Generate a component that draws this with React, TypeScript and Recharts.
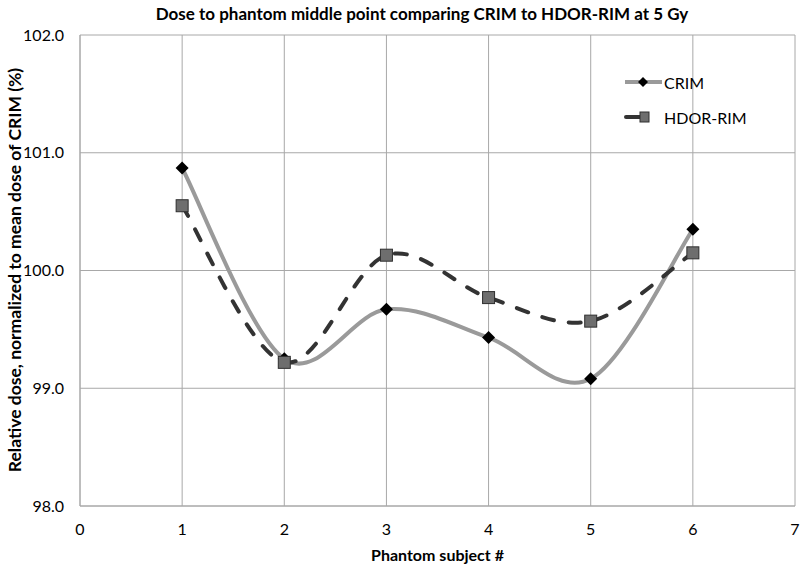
import React from "react";
import { LineChart, Line, XAxis, YAxis, CartesianGrid } from "recharts";

const subjects = [1, 2, 3, 4, 5, 6];
const crim = [100.87, 99.25, 99.67, 99.43, 99.08, 100.35];
const hdorRim = [100.55, 99.22, 100.13, 99.77, 99.57, 100.15];
const xTicks = [0, 1, 2, 3, 4, 5, 6, 7];
const yTicks = [98, 99, 100, 101, 102];

const data = subjects.map((s, i) => ({ subject: s, crim: crim[i], hdor: hdorRim[i] }));

const FONT = "Lato, 'Open Sans', sans-serif";
const GRID = "#a8a8a8";

// Excel-like smoothed line (Catmull-Rom through every point)
const smoothCurve = (context: any) => {
  let pts: number[][] = [];
  return {
    areaStart() {},
    areaEnd() {},
    lineStart() {
      pts = [];
    },
    point(x: number, y: number) {
      pts.push([+x, +y]);
    },
    lineEnd() {
      const n = pts.length;
      if (!n) return;
      context.moveTo(pts[0][0], pts[0][1]);
      for (let i = 0; i < n - 1; i++) {
        const p0 = pts[Math.max(i - 1, 0)];
        const p1 = pts[i];
        const p2 = pts[i + 1];
        const p3 = pts[Math.min(i + 2, n - 1)];
        context.bezierCurveTo(
          p1[0] + (p2[0] - p0[0]) / 6,
          p1[1] + (p2[1] - p0[1]) / 6,
          p2[0] - (p3[0] - p1[0]) / 6,
          p2[1] - (p3[1] - p1[1]) / 6,
          p2[0],
          p2[1]
        );
      }
    },
  };
};

const Diamond = (props: any) => {
  const { cx, cy } = props;
  if (cx == null || cy == null) return <g />;
  const r = 6.5;
  return <polygon points={`${cx},${cy - r} ${cx + r},${cy} ${cx},${cy + r} ${cx - r},${cy}`} fill="#000" />;
};

const Square = (props: any) => {
  const { cx, cy } = props;
  if (cx == null || cy == null) return <g />;
  return <rect x={cx - 6} y={cy - 6} width={12} height={12} fill="#6e6e6e" stroke="#2e2e2e" strokeWidth={1} />;
};

const App: React.FC = () => {
  return (
    <div style={{ position: "absolute", left: 0, top: 0, width: 800, height: 566, background: "#fff", fontFamily: FONT }}>
      <div
        style={{ position: "absolute", top: 3, left: 0, width: 844, textAlign: "center", fontWeight: 700, fontSize: 17, color: "#000" }}
      >
        Dose to phantom middle point comparing CRIM to HDOR-RIM at 5 Gy
      </div>
      <LineChart width={800} height={566} data={data} margin={{ top: 35, right: 5, bottom: 30, left: 0 }}>
        <CartesianGrid stroke={GRID} strokeWidth={1} />
        <XAxis
          dataKey="subject"
          type="number"
          domain={[0, 7]}
          ticks={xTicks}
          interval={0}
          tickLine={false}
          axisLine={{ stroke: GRID }}
          tickMargin={12}
          tick={{ fill: "#000", fontSize: 16, fontFamily: FONT }}
        />
        <YAxis
          type="number"
          domain={[98, 102]}
          ticks={yTicks}
          interval={0}
          width={80}
          tickLine={false}
          axisLine={{ stroke: GRID }}
          tickMargin={10}
          tickFormatter={(v) => Number(v).toFixed(1)}
          tick={{ fill: "#000", fontSize: 16, fontFamily: FONT }}
        />
        <Line
          dataKey="crim"
          name="CRIM"
          type={smoothCurve as any}
          stroke="#9a9a9a"
          strokeWidth={4}
          dot={<Diamond />}
          activeDot={false}
          isAnimationActive={false}
        />
        <Line
          dataKey="hdor"
          name="HDOR-RIM"
          type={smoothCurve as any}
          stroke="#333"
          strokeWidth={4}
          strokeDasharray="12 15"
          strokeLinecap="round"
          dot={<Square />}
          activeDot={false}
          isAnimationActive={false}
        />
      </LineChart>
      <div style={{ position: "absolute", left: 624, top: 72, fontSize: 16, color: "#000" }}>
        <div style={{ display: "flex", alignItems: "center", height: 20 }}>
          <svg width={40} height={20}>
            <line x1={1} y1={10} x2={38} y2={10} stroke="#9a9a9a" strokeWidth={4} />
            <polygon points="19,5 24,10 19,15 14,10" fill="#000" />
          </svg>
          <span>CRIM</span>
        </div>
        <div style={{ display: "flex", alignItems: "center", height: 20, marginTop: 15 }}>
          <svg width={40} height={20}>
            <line x1={2} y1={10} x2={18} y2={10} stroke="#333" strokeWidth={4} strokeLinecap="round" />
            <rect x={16} y={5} width={9} height={10} fill="#6e6e6e" stroke="#2e2e2e" strokeWidth={1} />
          </svg>
          <span>HDOR-RIM</span>
        </div>
      </div>
      <div
        style={{ position: "absolute", top: 545, left: 80, width: 715, textAlign: "center", fontWeight: 700, fontSize: 16, color: "#000" }}
      >
        Phantom subject #
      </div>
      <div
        style={{
          position: "absolute",
          left: 15,
          top: 270,
          width: 480,
          marginLeft: -240,
          marginTop: -11,
          textAlign: "center",
          fontWeight: 700,
          fontSize: 17.5,
          color: "#000",
          transform: "rotate(-90deg)",
          lineHeight: "22px",
        }}
      >
        Relative dose, normalized to mean dose of CRIM (%)
      </div>
    </div>
  );
};

export default App;
